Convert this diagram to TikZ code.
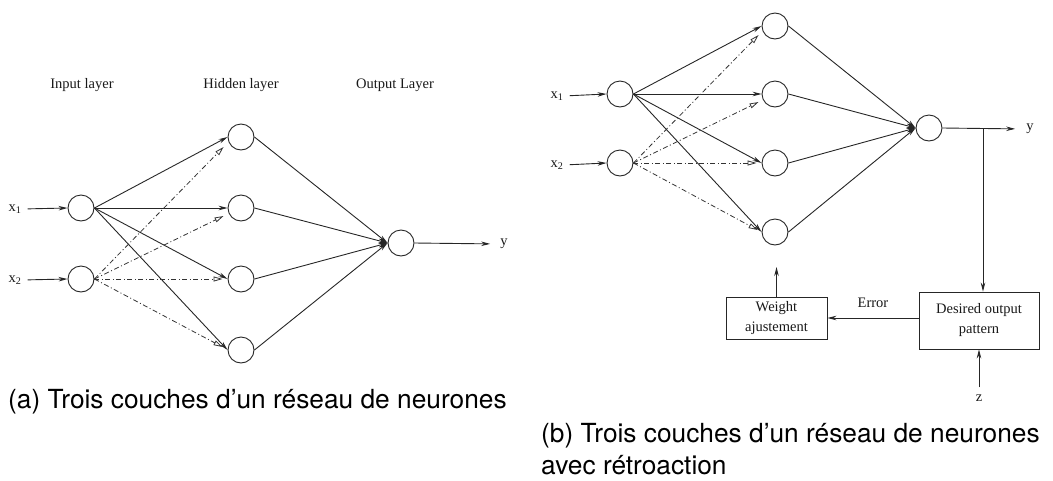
\documentclass[tikz,border=0pt]{standalone}
\usepackage{fontspec}
\setmainfont{Liberation Serif}
\newfontfamily\capfont{TeX Gyre Heros}
\usetikzlibrary{arrows.meta,calc}
\begin{document}
\begin{tikzpicture}[x=1pt,y=-1pt,
  neuron/.style={circle,draw=black!85,line width=0.9pt,minimum size=26pt,inner sep=0pt},
  conn/.style={draw=black!85,line width=0.9pt,-{Stealth[length=9pt,width=4.5pt]}},
  dconn/.style={draw=black!80,line width=0.8pt,dash pattern=on 5pt off 2.5pt on 1pt off 2.5pt,-{Triangle[open,length=9pt,width=5pt]}},
  lab/.style={font=\fontsize{14.5}{18}\selectfont,inner sep=0pt,text=black!90},
  captext/.style={font=\capfont\fontsize{26.3}{32}\selectfont,anchor=base west,inner sep=0pt},
  box/.style={draw=black!85,line width=0.9pt,align=center,font=\fontsize{14.5}{20}\selectfont,inner sep=0pt,text=black!90}
]
\useasboundingbox (0,0) rectangle (1053,480);

% ---------- (a) ----------
\node[lab,anchor=base] (tin) at (82,88) {Input layer};
\node[lab,anchor=base] (thid) at (241,88) {Hidden layer};
\node[lab,anchor=base] (tout) at (395,88) {Output Layer};

\node[neuron] (ai1) at (81,208) {};
\node[neuron] (ai2) at (81,279) {};
\node[neuron] (ah1) at (241,137) {};
\node[neuron] (ah2) at (241,208) {};
\node[neuron] (ah3) at (241,279) {};
\node[neuron] (ah4) at (241,350) {};
\node[neuron] (ao) at (401,243) {};

\node[lab] (ax1) at (15,209) {x\textsubscript{1}};
\node[lab] (ax2) at (15,280) {x\textsubscript{2}};
\node[lab] (ay) at (504,244) {y};

\draw[conn,shorten <=6pt] (ax1.east) -- (ai1.west);
\draw[conn,shorten <=6pt] (ax2.east) -- (ai2.west);

\foreach \h in {1,2,3,4} \draw[conn] (ai1.east) -- (ah\h.west);
\draw[dconn] (ai2.east) -- ($(ah1.west)+(-4,10)$);
\draw[dconn] (ai2.east) -- ($(ah2.west)+(-4,8)$);
\draw[dconn] (ai2.east) -- ($(ah3.west)+(-5,0)$);
\draw[dconn] (ai2.east) -- ($(ah4.west)+(-5,-3)$);
\foreach \h in {1,2,3,4} \draw[conn] (ah\h.east) -- (ao.west);
\draw[conn,shorten >=10pt] (ao.east) -- (ay.west);

\node[captext] (capa) at (8,408) {(a) Trois couches d’un réseau de neurones};

% ---------- (b) ----------
\node[neuron] (bi1) at (620,94) {};
\node[neuron] (bi2) at (620,163) {};
\node[neuron] (bh1) at (775,26) {};
\node[neuron] (bh2) at (775,94) {};
\node[neuron] (bh3) at (775,163) {};
\node[neuron] (bh4) at (775,232) {};
\node[neuron] (bo) at (929,128) {};

\node[lab] (bx1) at (557,96) {x\textsubscript{1}};
\node[lab] (bx2) at (557,165) {x\textsubscript{2}};
\node[lab] (by) at (1030,129) {y};

\draw[conn,shorten <=6pt] (bx1.east) -- (bi1.west);
\draw[conn,shorten <=6pt] (bx2.east) -- (bi2.west);

\foreach \h in {1,2,3,4} \draw[conn] (bi1.east) -- (bh\h.west);
\draw[dconn] (bi2.east) -- ($(bh1.west)+(-3,9)$);
\draw[dconn] (bi2.east) -- ($(bh2.west)+(-3,8)$);
\draw[dconn] (bi2.east) -- ($(bh3.west)+(-5,0)$);
\draw[dconn] (bi2.east) -- ($(bh4.west)+(-4,-2)$);
\foreach \h in {1,2,3,4} \draw[conn] (bh\h.east) -- (bo.west);
\draw[conn,shorten >=11pt] (bo.east) -- (by.west);

\node[box,minimum width=101pt,minimum height=42pt] (wb) at (776.5,318) {Weight\\ajustement};
\node[box,minimum width=120pt,minimum height=57pt] (db) at (979,320.5) {Desired output\\pattern};
\node[lab] (err) at (873,303) {Error};
\node[lab] (bz) at (979,398) {z};

\coordinate (j) at (983,128);
\coordinate (wt) at (776.5,267);
\draw[conn] (j) -- (j |- db.north);
\draw[conn] (wb.east -| db.west) -- (wb.east);
\draw[conn] (wb.north) -- (wt);
\draw[conn,shorten <=7pt] (bz.north) -- (db.south);

\node[captext] (capb1) at (541,442) {(b) Trois couches d’un réseau de neurones};
\node[captext] (capb2) at (541,474) {avec rétroaction};
\end{tikzpicture}
\end{document}
